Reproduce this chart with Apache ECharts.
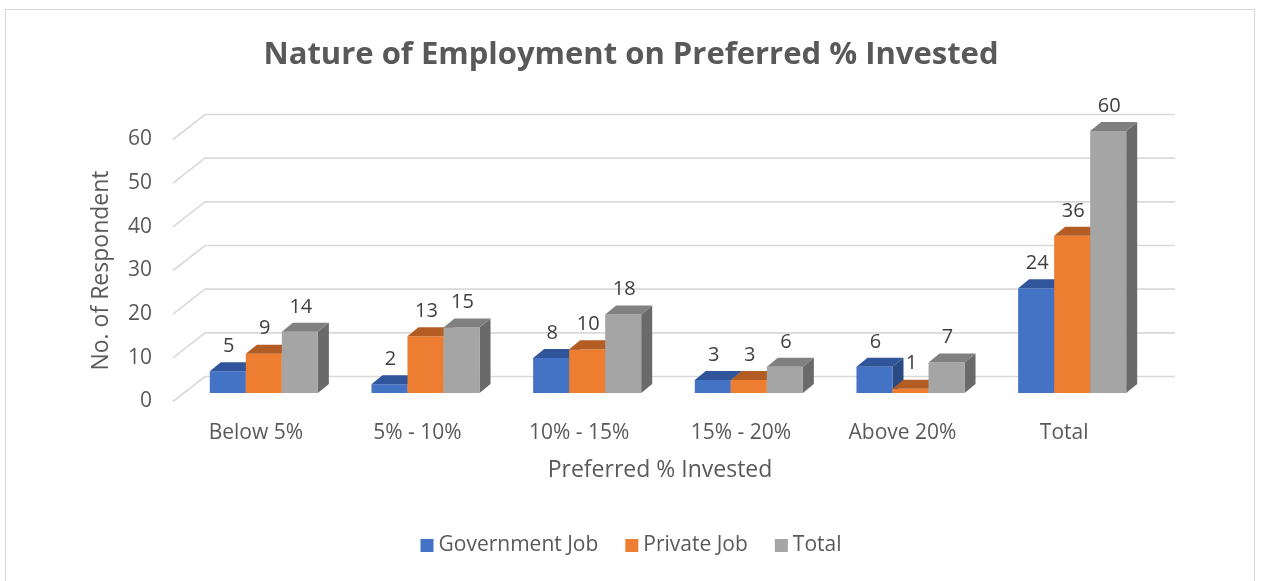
<!DOCTYPE html>
<html>
<head>
<meta charset="utf-8">
<style>
  html, body { margin: 0; padding: 0; background: #ffffff; }
  #chart { width: 1262px; height: 581px; }
</style>
<script src="https://cdn.jsdelivr.net/npm/echarts@6/dist/echarts.min.js"></script>
</head>
<body>
<div id="chart"></div>
<script>
// Survey counts by preferred share of income invested
const categories = ['Below 5%', '5% - 10%', '10% - 15%', '15% - 20%', 'Above 20%', 'Total'];
const governmentJob = [5, 2, 8, 3, 6, 24];
const privateJob = [9, 13, 10, 3, 1, 36];
const totalResp = [14, 15, 18, 6, 7, 60];
const seriesNames = ['Government Job', 'Private Job', 'Total'];
const yTicks = [0, 10, 20, 30, 40, 50, 60];

const FONT = '"Open Sans", Lato, sans-serif';
const TEXT = '#595959';

// face colours: front, top, side
const faces = [
  { front: '#4472C4', top: '#30559B', side: '#2B4A82' },
  { front: '#ED7D31', top: '#B35C23', side: '#A5521D' },
  { front: '#A5A5A5', top: '#808080', side: '#6A6A6A' }
];

// oblique depth of a bar and of the whole floor (pixels)
const BAR_DX = 11, BAR_DY = -9;
const WALL_DX = 22, WALL_DY = -16.5;   // bar plane -> back wall
const FRONT_DX = -10, FRONT_DY = 8.5;  // bar plane -> floor front edge

function barSeries(idx, values) {
  return {
    type: 'custom',
    name: seriesNames[idx],
    xAxisIndex: 0,
    yAxisIndex: 0,
    z: 5 + idx,
    itemStyle: { color: faces[idx].front },
    data: values.map((v, i) => [i, v]),
    renderItem: function (params, api) {
      const cat = api.value(0);
      const val = api.value(1);
      const base = api.coord([cat, 0]);
      const top = api.coord([cat, val]);
      const bandW = api.size([1, 0])[0];
      const w = bandW * 0.2228;
      const x0 = base[0] + (idx - 1.5) * w;
      const y0 = base[1];
      const y1 = top[1];
      const c = faces[idx];
      return {
        type: 'group',
        children: [
          {
            type: 'polygon',
            shape: { points: [[x0 + w, y1], [x0 + w + BAR_DX, y1 + BAR_DY], [x0 + w + BAR_DX, y0 + BAR_DY], [x0 + w, y0]] },
            style: { fill: c.side }
          },
          {
            type: 'rect',
            shape: { x: x0, y: y1, width: w, height: y0 - y1 },
            style: { fill: c.front }
          },
          {
            type: 'polygon',
            shape: { points: [[x0, y1], [x0 + w, y1], [x0 + w + BAR_DX, y1 + BAR_DY], [x0 + BAR_DX, y1 + BAR_DY]] },
            style: { fill: c.top }
          },
          {
            type: 'text',
            style: {
              text: String(val),
              x: x0 + w / 2 + 1,
              y: y1 - 25,
              align: 'center',
              verticalAlign: 'middle',
              font: '20px ' + FONT,
              fill: '#404040'
            }
          }
        ]
      };
    }
  };
}

// back wall and side wall gridlines at each tick value
const wallSeries = {
  type: 'custom',
  name: 'wall',
  xAxisIndex: 0,
  yAxisIndex: 0,
  z: 1,
  silent: true,
  data: yTicks.map(v => [0, v]),
  renderItem: function (params, api) {
    const y = api.coord([0, api.value(1)])[1];
    const cs = params.coordSys;
    const left = cs.x + WALL_DX;
    const right = cs.x + cs.width + WALL_DX;
    const yb = y + WALL_DY;
    const frontX = cs.x + FRONT_DX;
    return {
      type: 'polyline',
      shape: { points: [[frontX, y + FRONT_DY], [left, yb], [right, yb]] },
      style: { stroke: '#D9D9D9', lineWidth: 1.6, fill: null }
    };
  }
};

const chart = echarts.init(document.getElementById('chart'), null, { renderer: 'canvas' });

chart.setOption({
  backgroundColor: '#ffffff',
  animation: false,
  textStyle: { fontFamily: FONT },
  color: faces.map(f => f.front),
  graphic: [
    {
      type: 'rect',
      shape: { x: 5.5, y: 9.5, width: 1249, height: 600 },
      style: { fill: null, stroke: '#D9D9D9', lineWidth: 1.2 },
      z: 0
    }
  ],
  title: {
    text: 'Nature of Employment on Preferred % Invested',
    left: 'center',
    top: 35,
    textStyle: { fontFamily: FONT, fontSize: 31, fontWeight: 'bold', color: TEXT }
  },
  legend: {
    data: seriesNames,
    bottom: 20,
    left: 'center',
    icon: 'rect',
    itemWidth: 13,
    itemHeight: 13,
    itemGap: 27,
    textStyle: { fontFamily: FONT, fontSize: 21, color: TEXT }
  },
  grid: [
    { left: 183, right: 109, top: 131, bottom: 188 },
    { left: 175, right: 117, top: 139.5, bottom: 179.5 }
  ],
  xAxis: [
    { type: 'category', gridIndex: 0, data: categories, show: false },
    {
      type: 'category', gridIndex: 1, data: categories,
      axisLine: { show: false }, axisTick: { show: false },
      axisLabel: { margin: 21, fontSize: 21, color: TEXT, fontFamily: FONT },
      name: 'Preferred % Invested',
      nameLocation: 'middle',
      nameGap: 57,
      nameTextStyle: { fontSize: 23, color: TEXT, fontFamily: FONT }
    }
  ],
  yAxis: [
    { type: 'value', gridIndex: 0, min: 0, max: 60, interval: 10, show: false },
    {
      type: 'value', gridIndex: 1, min: 0, max: 60, interval: 10,
      axisLine: { show: false }, axisTick: { show: false }, splitLine: { show: false },
      axisLabel: { margin: 23, fontSize: 21, color: TEXT, fontFamily: FONT },
      name: 'No. of Respondent',
      nameLocation: 'middle',
      nameRotate: 90,
      nameGap: 62,
      nameTextStyle: { fontSize: 23, color: TEXT, fontFamily: FONT }
    }
  ],
  series: [
    wallSeries,
    barSeries(0, governmentJob),
    barSeries(1, privateJob),
    barSeries(2, totalResp)
  ]
});
</script>
</body>
</html>
